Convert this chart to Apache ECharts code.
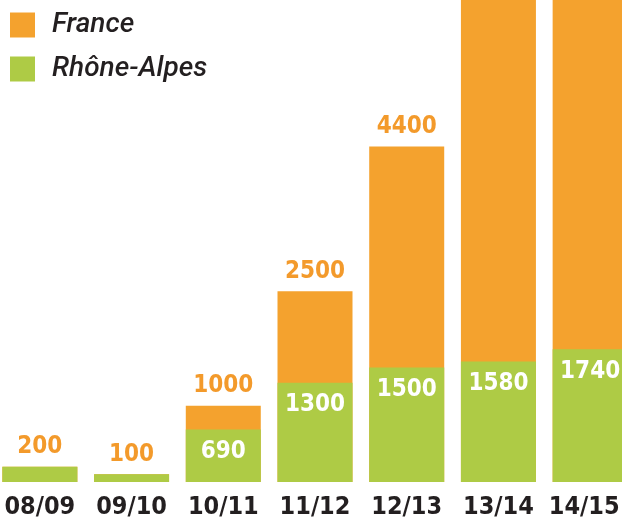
<!DOCTYPE html>
<html>
<head>
    <meta charset="utf8">
    <title>ECharts</title>
    <script src="https://cdn.jsdelivr.net/npm/echarts@6/dist/echarts.min.js"></script>
    <style>body{margin:0;background:#fff;}</style>
</head>
<body>
    <div id="main" style="width: 622px;height:524px;"></div>
    <script type="text/javascript">
        var years = ['08/09', '09/10', '10/11', '11/12', '12/13', '13/14', '14/15'];
        // France : les deux dernières valeurs dépassent le cadre (non lisibles)
        var franceData = [200, 100, 1000, 2500, 4400, 7000, 8000];
        var rhoneData = [200, 100, 690, 1300, 1500, 1580, 1740];
        var franceLabelShown = [true, true, true, true, true, false, false];
        var rhoneLabelShown = [false, false, true, true, true, true, true];

        var orange = '#F4A22E';
        var green = '#AECB45';
        var labelFont = '"DejaVu Sans Condensed", Roboto, sans-serif';

        var myChart = echarts.init(document.getElementById('main'));

        var option = {
            backgroundColor: '#fff',
            animation: false,
            legend: {
                orient: 'vertical',
                left: 10,
                top: 6,
                padding: 0,
                itemWidth: 25,
                itemHeight: 25,
                itemGap: 6,
                icon: 'rect',
                textStyle: {
                    fontFamily: 'Roboto, sans-serif',
                    fontStyle: 'italic',
                    fontWeight: 500,
                    fontSize: 28,
                    lineHeight: 32,
                    color: '#231f20',
                    padding: [6, 0, 0, 12]
                },
                data: ['France', 'Rhône-Alpes']
            },
            grid: {
                left: -6,
                top: 0,
                width: 642,
                height: 482,
                containLabel: false,
                outerBoundsMode: 'none'
            },
            xAxis: {
                type: 'category',
                data: years,
                axisLine: { show: false },
                axisTick: { show: false },
                axisLabel: {
                    interval: 0,
                    margin: 13,
                    fontFamily: labelFont,
                    fontWeight: 'bold',
                    fontSize: 25,
                    color: '#231f20',
                    formatter: function (v, i) {
                        return i === years.length - 1 ? '{last|' + v + '}' : v;
                    },
                    rich: {
                        last: {
                            fontFamily: labelFont,
                            fontWeight: 'bold',
                            fontSize: 25,
                            color: '#231f20',
                            padding: [0, 12, 0, 0]
                        }
                    }
                }
            },
            yAxis: {
                type: 'value',
                min: 0,
                max: 6320,
                show: false,
                splitLine: { show: false }
            },
            series: [
                {
                    name: 'France',
                    type: 'bar',
                    barWidth: 75,
                    barGap: '-100%',
                    clip: true,
                    itemStyle: { color: orange },
                    data: franceData.map(function (v, i) {
                        return {
                            value: v,
                            label: { show: franceLabelShown[i] }
                        };
                    }),
                    label: {
                        position: 'top',
                        distance: 8,
                        fontFamily: labelFont,
                        fontWeight: 'bold',
                        fontSize: 24,
                        color: '#F39A2B'
                    }
                },
                {
                    name: 'Rhône-Alpes',
                    type: 'bar',
                    barWidth: 75,
                    barGap: '-100%',
                    itemStyle: { color: green },
                    data: rhoneData.map(function (v, i) {
                        return {
                            value: v,
                            label: { show: rhoneLabelShown[i] }
                        };
                    }),
                    label: {
                        position: 'insideTop',
                        distance: 10,
                        fontFamily: labelFont,
                        fontWeight: 'bold',
                        fontSize: 24,
                        color: '#fff'
                    }
                }
            ]
        };
        myChart.setOption(option);
    </script>
</body>
</html>
